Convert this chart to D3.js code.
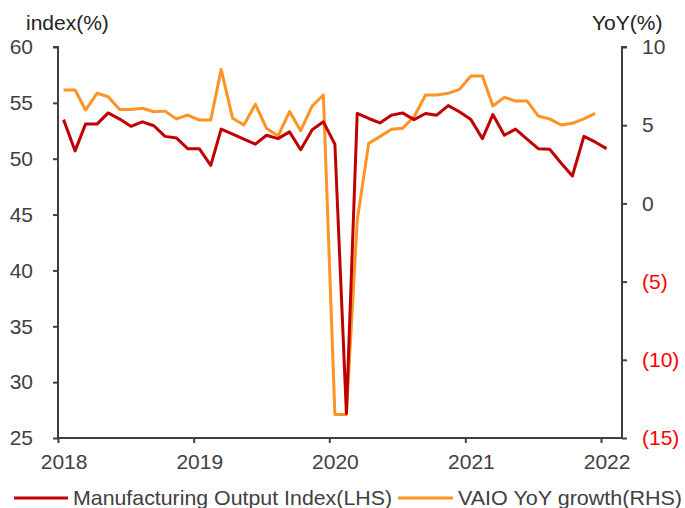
<!DOCTYPE html>
<html><head><meta charset="utf-8">
<script src="https://cdn.jsdelivr.net/npm/d3@7"></script>
<style>body{margin:0;background:#fff}svg{display:block;font-family:"Liberation Sans",Arial,sans-serif}</style>
</head><body><svg id="c" width="685" height="508"></svg>
<script>
const months = d3.range(49).map(i => new Date(2018, i, 1));
const mfgIndex = [53.5,50.7,53.1,53.1,54.1,53.55,52.9,53.3,52.95,52.0,51.85,50.9,
  50.9,49.4,52.65,52.2,51.75,51.3,52.1,51.8,52.4,50.8,52.6,53.3,
  51.3,27.2,54.05,53.6,53.2,53.9,54.1,53.5,54.05,53.9,54.75,54.2,
  53.5,51.8,53.95,52.1,52.65,51.75,50.9,50.85,49.6,48.45,52.0,51.5,50.9];
const vaioYoY = [7.25,7.25,5.97,7.04,6.82,6.0,6.0,6.08,5.86,5.9,5.4,5.65,
  5.33,5.33,8.57,5.44,5.01,6.34,4.8,4.31,5.87,4.65,6.23,6.93,
  -13.5,-13.5,-1.1,3.84,4.27,4.74,4.8,5.54,6.93,6.93,7.04,7.29,
  8.15,8.15,6.23,6.78,6.55,6.55,5.59,5.4,5.01,5.12,5.4,5.76];
const leftTicks = [25,30,35,40,45,50,55,60];
const rightTicks = [-15,-10,-5,0,5,10];
const yearTicks = [2018,2019,2020,2021,2022];
const seriesNames = ["Manufacturing Output Index(LHS)","VAIO YoY growth(RHS)"];
const colors = ["#C00000","#FF9326"];

const svg = d3.select("#c");
const L = 58, R = 622, T = 47, B = 438;
const FS = 21;
const x = d3.scaleTime().domain([new Date(2018,0,1), new Date(2022,0,1)]).range([L, 601]);
const mid = d => new Date(d.getFullYear(), d.getMonth(), 16);
const yL = d3.scaleLinear().domain([25,60]).range([B,T]);
const yR = d3.scaleLinear().domain([-15,10]).range([B,T]);
const axCol = "#404040", txtCol = "#404040";

const gl = svg.append("g").attr("transform",`translate(${L},0)`)
  .call(d3.axisLeft(yL).tickValues(leftTicks).tickSize(5).tickPadding(20).tickFormat(d3.format("d")));
const gr = svg.append("g").attr("transform",`translate(${R},0)`)
  .call(d3.axisRight(yR).tickValues(rightTicks).tickSize(5).tickPadding(15)
    .tickFormat(d => d < 0 ? `(${-d})` : d));
const gb = svg.append("g").attr("transform",`translate(0,${B})`)
  .call(d3.axisBottom(x).tickValues(yearTicks.map(y => new Date(y,0,1))).tickSize(5).tickPadding(11)
    .tickFormat(d3.timeFormat("%Y")));
gb.select(".domain").attr("d", `M${L},0H${R}`);
[gl,gr,gb].forEach(g => {
  g.selectAll(".domain").attr("stroke",axCol).attr("stroke-width",2);
  g.selectAll(".tick line").attr("stroke",axCol).attr("stroke-width",2);
  g.selectAll("text").attr("font-size",FS).attr("fill",txtCol).attr("font-family","Liberation Sans, Arial, sans-serif");
});
gl.selectAll(".domain").attr("d",`M-5,${T}H0V${B}`);
gr.selectAll(".domain").attr("d",`M5,${T}H0V${B}`);
gr.selectAll(".tick text").attr("text-anchor","start").attr("fill", d => d < 0 ? "#FF0000" : txtCol);
gb.selectAll(".tick text").attr("dx", d => x(mid(d)) - x(d));

svg.append("text").attr("x",26).attr("y",30).attr("font-size",FS).attr("fill","#222").text("index(%)");
svg.append("text").attr("x",592).attr("y",30).attr("font-size",FS).attr("fill","#222").text("YoY(%)");

const lineL = d3.line().x((d,i) => x(mid(months[i]))).y(d => yL(d));
const lineR = d3.line().x((d,i) => x(mid(months[i]))).y(d => yR(d));
svg.append("path").datum(vaioYoY).attr("d",lineR).attr("fill","none").attr("stroke",colors[1]).attr("stroke-width",3).attr("stroke-linejoin","round");
svg.append("path").datum(mfgIndex).attr("d",lineL).attr("fill","none").attr("stroke",colors[0]).attr("stroke-width",3).attr("stroke-linejoin","round");

const lg = [{x1:14,x2:68,tx:73,w:319},{x1:398,x2:453,tx:458,w:224}];
lg.forEach((p,i) => {
  svg.append("line").attr("x1",p.x1).attr("x2",p.x2).attr("y1",498).attr("y2",498).attr("stroke",colors[i]).attr("stroke-width",3);
  svg.append("text").attr("x",p.tx).attr("y",505).attr("font-size",FS).attr("fill",txtCol)
    .attr("textLength",p.w).attr("lengthAdjust","spacingAndGlyphs").text(seriesNames[i]);
});
</script></body></html>
